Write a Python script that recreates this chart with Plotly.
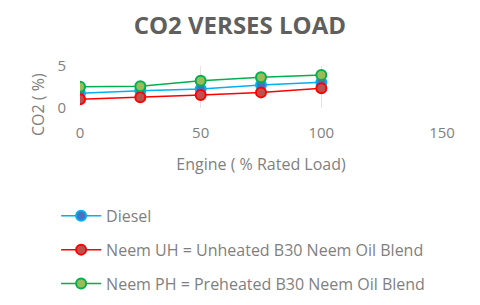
import plotly.graph_objects as go

loads = [0, 25, 50, 75, 100]
diesel = [1.75, 2.06, 2.26, 2.74, 3.06]
neem_uh = [1.03, 1.27, 1.55, 1.86, 2.34]
neem_ph = [2.54, 2.60, 3.25, 3.65, 3.93]

names = ["Diesel", "Neem UH = Unheated B30 Neem Oil Blend", "Neem PH = Preheated B30 Neem Oil Blend"]
series = [diesel, neem_uh, neem_ph]
line_colors = ["#00B0F0", "#FF0000", "#00B050"]
fill_colors = ["#4472C4", "#C0504D", "#9BBB59"]

FONT = "Open Sans"
fig = go.Figure()
for i, (n, s) in enumerate(zip(names, series)):
    fig.add_trace(go.Scatter(
        x=loads, y=s, name=n, mode="lines+markers",
        legendgroup=str(i),
        line=dict(color=line_colors[i], width=1.5),
        marker=dict(size=10, color=fill_colors[i], line=dict(color=line_colors[i], width=2)),
    ))

fig.add_annotation(text="CO2 ( %)", xref="paper", yref="paper", x=0, y=0.5,
                   xanchor="center", yanchor="middle", xshift=-42, yshift=-18,
                   textangle=-90, showarrow=False,
                   font=dict(size=16, color="#7F7F7F", family=FONT))

fig.update_layout(
    width=480, height=305,
    margin=dict(l=72, r=46, t=58, b=205, autoexpand=False),
    paper_bgcolor="white", plot_bgcolor="white",
    font=dict(family=FONT, color="#7F7F7F", size=15),
    title=dict(text="<b>CO2 VERSES LOAD</b>", x=0.483, xanchor="center", y=0.943, yanchor="middle",
               font=dict(size=24, color="#5F5F5F", family=FONT)),
    showlegend=True,
    legend=dict(x=-0.066, xanchor="left", y=0.374, yref="container", yanchor="top", traceorder="grouped",
                tracegroupgap=10, font=dict(size=16, color="#7F7F7F", family=FONT),
                bgcolor="rgba(0,0,0,0)", itemwidth=40),
    xaxis=dict(range=[0, 150], tickvals=[0, 50, 100, 150], showgrid=True, gridcolor="#E3E3E3",
               zeroline=False, showline=False, ticks="outside", ticklen=11, tickcolor="rgba(0,0,0,0)",
               automargin=False,
               title=dict(text="Engine ( % Rated Load)", font=dict(size=16, color="#7F7F7F"), standoff=17)),
    yaxis=dict(range=[0, 5], tickvals=[0, 5], showgrid=True, gridcolor="#E3E3E3",
               zeroline=False, showline=False, ticks="outside", ticklen=10, tickcolor="rgba(0,0,0,0)",
               automargin=False),
)
fig.write_html("out.html")
